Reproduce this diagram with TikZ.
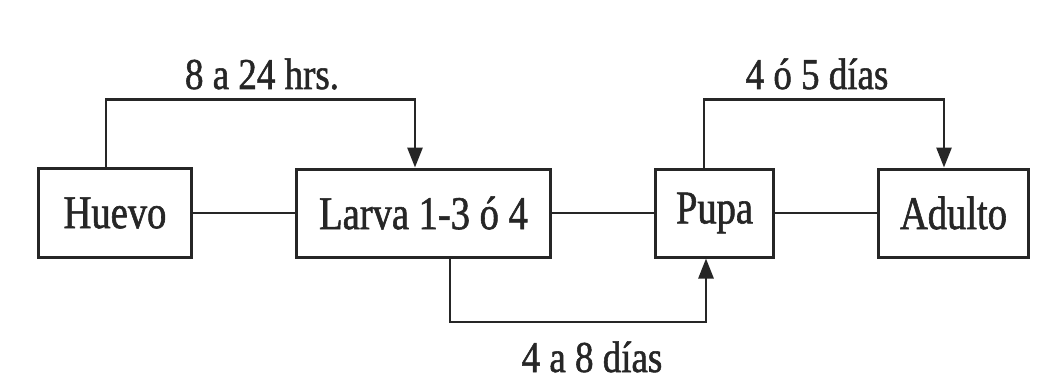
\documentclass[tikz,border=0pt]{standalone}
\usepackage{fontspec}
\setmainfont{Liberation Serif}
\newfontfamily\boxfont[FakeStretch=0.82,FakeBold=1.2]{Liberation Serif}
\newfontfamily\labfont[FakeStretch=0.84,FakeBold=1.2]{Liberation Serif}
\usetikzlibrary{arrows.meta}
\definecolor{ink}{HTML}{262626}
\tikzset{
  x=1pt, y=1pt,
  stage/.style={draw=ink, line width=3pt, inner sep=0pt, text=ink,
    font=\boxfont\fontsize{47}{50}\selectfont},
  conn/.style={draw=ink, line width=2.8pt},
  arr/.style={conn, -{Triangle[length=20pt,width=15pt]}},
  lab/.style={text=ink, inner sep=0pt, anchor=base,
    font=\labfont\fontsize{44}{48}\selectfont}
}
\begin{document}
\begin{tikzpicture}
\useasboundingbox (0,0) rectangle (1052,389);
\node[stage, minimum width=153pt, minimum height=89pt] (H) at (115,176) {Huevo};
\node[stage, minimum width=254pt, minimum height=88pt] (L) at (423.5,176) {Larva 1-3 ó 4};
\node[stage, minimum width=118pt, minimum height=88pt] (P) at (714.5,176) {Pupa};
\node[stage, minimum width=150pt, minimum height=88pt] (A) at (953.5,176) {Adulto};
\draw[conn] (H.east) -- (L.west);
\draw[conn] (L.east) -- (P.west);
\draw[conn] (P.east) -- (A.west);
\coordinate (t1) at (0,289.5);
\coordinate (b1) at (0,67);
\draw[arr] ([xshift=-9pt]H.north) -- ([xshift=-9pt]H.north |- t1) -| ([xshift=-8.5pt]L.north);
\draw[arr] ([xshift=-10.5pt]P.north) -- ([xshift=-10.5pt]P.north |- t1) -| ([xshift=-9.5pt]A.north);
\draw[arr] ([xshift=26.5pt]L.south) -- ([xshift=26.5pt]L.south |- b1) -| ([xshift=-8.5pt]P.south);
\node[lab] (l1) at (262,300) {8 a 24 hrs.};
\node[lab] (l2) at (817,300) {4 ó 5 días};
\node[lab] (l3) at (592,17) {4 a 8 días};
\end{tikzpicture}
\end{document}
